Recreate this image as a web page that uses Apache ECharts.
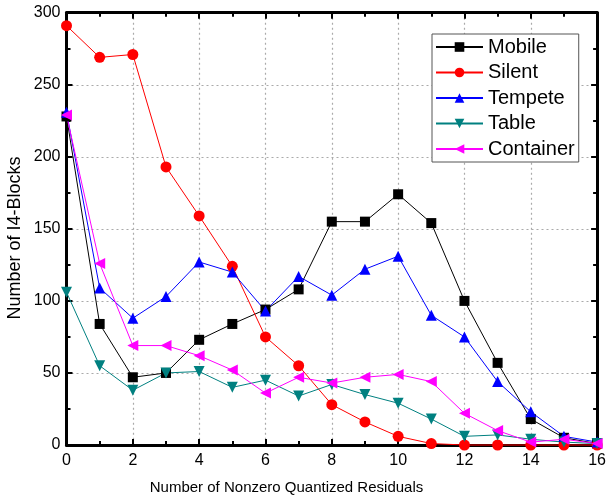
<!DOCTYPE html>
<html>
<head>
<meta charset="utf-8">
<script src="https://cdn.jsdelivr.net/npm/echarts@6/dist/echarts.min.js"></script>
<style>
  html, body { margin: 0; padding: 0; background: #fff; }
  #chart { width: 609px; height: 501px; }
</style>
</head>
<body>
<div id="chart"></div>
<script>
// Number of nonzero quantized residuals per block (x axis)
const residualCounts = [0, 1, 2, 3, 4, 5, 6, 7, 8, 9, 10, 11, 12, 13, 14, 15, 16];

// Block counts for each test sequence
const mobile    = [228, 84, 47, 50, 73, 84, 94, 108, 155, 155, 174, 154, 100, 57, 18, 5, 1];
const silent    = [291, 269, 271, 193, 159, 124, 75, 55, 28, 16, 6, 1, 0, 0, 0, 0, 0];
const tempete   = [231, 109, 88, 103, 127, 120, 93, 117, 104, 122, 131, 90, 75, 44, 23, 6, 2];
const table     = [106, 55, 38, 50, 51, 40, 45, 34, 42, 35, 29, 18, 6, 7, 4, 2, 1];
const container = [229, 126, 69, 69, 62, 52, 36, 47, 43, 47, 49, 44, 22, 10, 2, 4, 1];

const seriesNames = ['Mobile', 'Silent', 'Tempete', 'Table', 'Container'];

const xTitle = 'Number of Nonzero Quantized Residuals';
const yTitle = 'Number of I4-Blocks';

const FONT = 'Liberation Sans, Arial, sans-serif';

function pairs(values) {
  return values.map((v, i) => [residualCounts[i], v]);
}

function lineSeries(name, values, color, symbol, rotate) {
  return {
    name: name,
    type: 'line',
    data: pairs(values),
    symbol: symbol,
    symbolSize: symbol === 'rect' ? 10 : 11,
    symbolRotate: rotate,
    showSymbol: true,
    clip: false,
    lineStyle: { color: color, width: 1 },
    itemStyle: { color: color, borderColor: color, borderWidth: 0 },
    emphasis: { disabled: true },
    z: 3
  };
}

const frameLine = { show: true, onZero: false, lineStyle: { color: '#000', width: 3 } };
const gridLine = { show: true, lineStyle: { color: '#aaa', width: 1.2, type: [2, 3] } };
const majorTick = { show: true, inside: true, length: 6, lineStyle: { color: '#000', width: 2 } };
const minorTick = { show: true, splitNumber: 2, length: 4, lineStyle: { color: '#000', width: 2 } };

const chart = echarts.init(document.getElementById('chart'), null, { renderer: 'canvas' });

chart.setOption({
  animation: false,
  backgroundColor: '#fff',
  grid: { left: 66.5, right: 8.5, top: 12.7, bottom: 56, containLabel: false },
  legend: {
    data: seriesNames,
    orient: 'vertical',
    left: 432,
    top: 34,
    itemWidth: 47,
    itemHeight: 12,
    itemGap: 5.5,
    padding: [3, 4, 3, 3],
    backgroundColor: '#fff',
    borderColor: '#555',
    borderWidth: 1,
    borderRadius: 0,
    textStyle: { fontFamily: FONT, fontSize: 20, lineHeight: 20, color: '#000' },
    itemStyle: { borderWidth: 0 }
  },
  graphic: [
    {
      type: 'text',
      x: 286.5, y: 488,
      style: {
        text: xTitle, font: '15px ' + FONT, fill: '#000',
        align: 'center', verticalAlign: 'middle'
      }
    },
    {
      type: 'text',
      x: 15, y: 238,
      rotation: Math.PI / 2,
      style: {
        text: yTitle, font: '18px ' + FONT, fill: '#000',
        align: 'center', verticalAlign: 'middle'
      }
    }
  ],
  xAxis: [
    {
      type: 'value',
      min: 0, max: 16, interval: 2,
      position: 'bottom',
      axisLine: frameLine,
      axisTick: majorTick,
      minorTick: minorTick,
      axisLabel: { fontFamily: FONT, fontSize: 16, color: '#000', margin: 8 },
      splitLine: gridLine
    },
    {
      type: 'value',
      min: 0, max: 16, interval: 2,
      position: 'top',
      axisLine: frameLine,
      axisTick: majorTick,
      minorTick: minorTick,
      axisLabel: { show: false },
      splitLine: { show: false }
    }
  ],
  yAxis: [
    {
      type: 'value',
      min: 0, max: 300, interval: 50,
      position: 'left',
      axisLine: frameLine,
      axisTick: majorTick,
      minorTick: minorTick,
      axisLabel: { fontFamily: FONT, fontSize: 16, color: '#000', margin: 6 },
      splitLine: gridLine
    },
    {
      type: 'value',
      min: 0, max: 300, interval: 50,
      position: 'right',
      axisLine: frameLine,
      axisTick: majorTick,
      minorTick: minorTick,
      axisLabel: { show: false },
      splitLine: { show: false }
    }
  ],
  series: [
    lineSeries('Mobile', mobile, '#000000', 'rect', 0),
    lineSeries('Silent', silent, '#ff0000', 'circle', 0),
    lineSeries('Tempete', tempete, '#0000ff', 'triangle', 0),
    lineSeries('Table', table, '#008080', 'triangle', 180),
    lineSeries('Container', container, '#ff00ff', 'triangle', 90)
  ]
});
</script>
</body>
</html>
